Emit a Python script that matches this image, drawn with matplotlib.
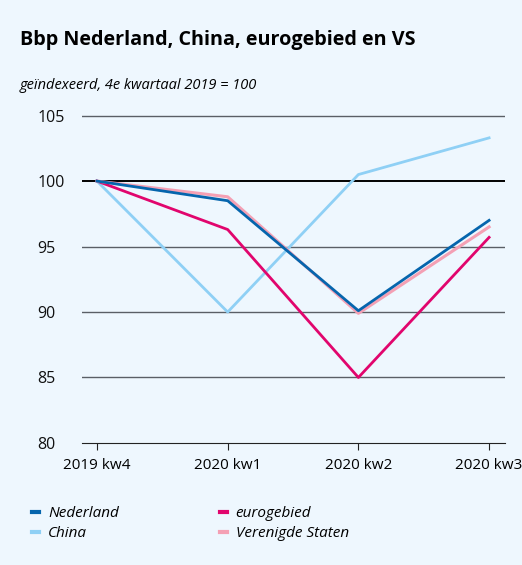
import matplotlib.pyplot as plt

kwartalen = ["2019 kw4", "2020 kw1", "2020 kw2", "2020 kw3"]
nederland = [100, 98.5, 90.1, 97.0]
china = [100, 90.0, 100.5, 103.3]
eurogebied = [100, 96.3, 85.0, 95.7]
vs = [100, 98.8, 89.9, 96.5]

bg = "#EEF7FE"
plt.rcParams["font.family"] = ["Open Sans", "DejaVu Sans"]

fig = plt.figure(figsize=(5.22, 5.65), dpi=100, facecolor=bg)
ax = fig.add_axes([0.157, 0.216, 0.81, 0.584], facecolor=bg)

x = range(len(kwartalen))
for v in [85, 90, 95, 105]:
    ax.axhline(v, color="#5a5f66", lw=1.0, zorder=1)
ax.axhline(100, color="black", lw=1.4, zorder=1)

ax.plot(x, china, color="#8FD0F5", lw=2, label="China", zorder=2)
ax.plot(x, eurogebied, color="#E1056D", lw=2, label="eurogebied", zorder=3)
ax.plot(x, vs, color="#F4A0B4", lw=2.2, label="Verenigde Staten", zorder=3)
ax.plot(x, nederland, color="#0565AD", lw=2, label="Nederland", zorder=4)

ax.set_xlim(-0.115, 3.12)
ax.set_ylim(80, 105.2)
ax.set_yticks([80, 85, 90, 95, 100, 105])
ax.set_xticks(list(x))
ax.set_xticklabels(kwartalen)
for s in ["top", "right", "left"]:
    ax.spines[s].set_visible(False)
ax.spines["bottom"].set_color("#222222")
ax.tick_params(axis="y", length=0, pad=32, labelsize=11.5, colors="#111111")
for lab in ax.get_yticklabels():
    lab.set_horizontalalignment("left")
ax.tick_params(axis="x", length=5, direction="out", color="#222222", labelsize=11, pad=6)

fig.text(0.038, 0.929, "Bbp Nederland, China, eurogebied en VS", fontsize=14.2,
         fontweight="bold", va="center", ha="left")
fig.text(0.038, 0.849, "geïndexeerd, 4e kwartaal 2019 = 100", fontsize=10.5,
         fontstyle="italic", va="center", ha="left")

h, l = ax.get_legend_handles_labels()
order = [3, 0, 1, 2]
leg = fig.legend([h[i] for i in order], [l[i] for i in order], ncol=2, loc="upper left",
                 bbox_to_anchor=(0.035, 0.128), frameon=False, handlelength=0.45,
                 handletextpad=0.6, columnspacing=6.6, labelspacing=0.3,
                 prop={"style": "italic", "size": 11})
for line in leg.get_lines():
    line.set_linewidth(3)

fig.savefig("out.png", dpi=100, facecolor=bg)
